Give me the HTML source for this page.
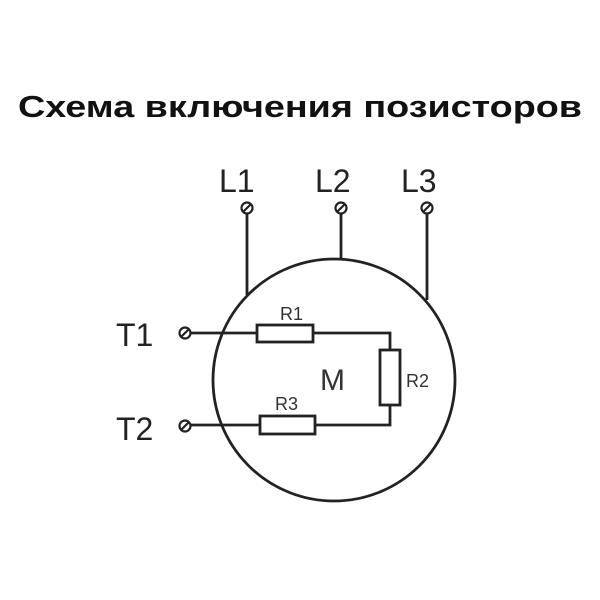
<!DOCTYPE html>
<html><head><meta charset="utf-8"><style>body{margin:0;background:#fff}svg{display:block}</style></head>
<body><svg width="600" height="600" viewBox="0 0 600 600" font-family="Liberation Sans, sans-serif">
<text x="18" y="117" font-size="31" font-weight="bold" fill="#111" textLength="564" lengthAdjust="spacingAndGlyphs">Схема включения позисторов</text>
<g fill="#222" font-size="32">
<text x="219" y="192">L1</text><text x="315" y="192">L2</text><text x="401" y="192">L3</text>
<text x="116" y="346">T1</text><text x="116" y="440">T2</text>
</g>
<g stroke="#222" stroke-width="2.8" fill="none">
<circle cx="334" cy="380" r="121"/>
<line x1="247" y1="214" x2="247" y2="295"/>
<line x1="341" y1="214" x2="341" y2="260"/>
<line x1="427" y1="214" x2="427" y2="300"/>
<polyline points="191,333 257,333"/>
<rect x="257" y="325" width="56" height="17"/>
<polyline points="313,333 390,333 390,350"/>
<rect x="380" y="350" width="20" height="55"/>
<polyline points="390,405 390,425 315,425"/>
<rect x="260" y="416" width="55" height="18"/>
<polyline points="260,425 191,425"/>
<g stroke-width="2.2">
<circle cx="247" cy="208" r="5.5"/><line x1="243" y1="212" x2="251" y2="204"/>
<circle cx="341" cy="208" r="5.5"/><line x1="337" y1="212" x2="345" y2="204"/>
<circle cx="427" cy="208" r="5.5"/><line x1="423" y1="212" x2="431" y2="204"/>
<circle cx="185" cy="333" r="5.5"/><line x1="181" y1="337" x2="189" y2="329"/>
<circle cx="185" cy="426" r="5.5"/><line x1="181" y1="430" x2="189" y2="422"/>
</g>
</g>
<g fill="#333" font-size="18">
<text x="280" y="320">R1</text><text x="406" y="387">R2</text><text x="275" y="410">R3</text>
</g>
<text x="320" y="390" font-size="30" fill="#333">M</text>
</svg></body></html>
